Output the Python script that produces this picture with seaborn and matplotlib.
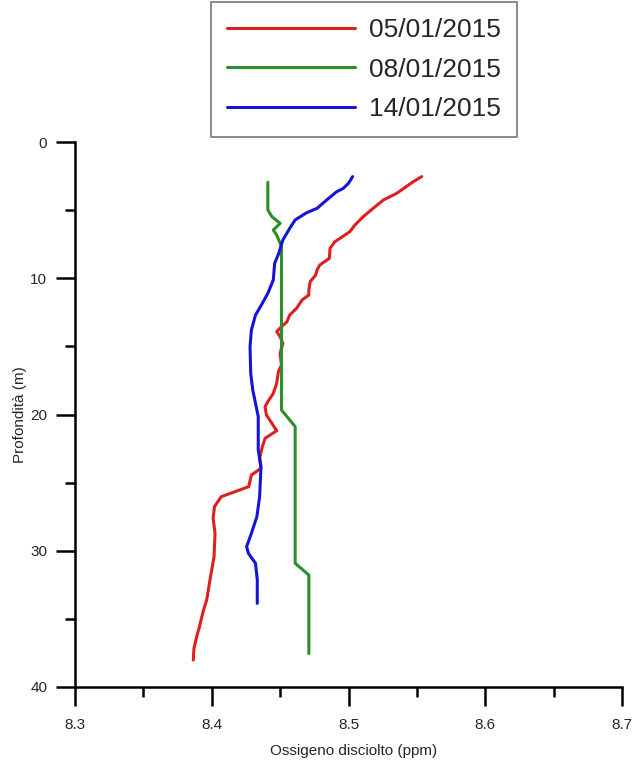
import matplotlib
matplotlib.use("Agg")
import matplotlib.pyplot as plt
import seaborn as sns
import pandas as pd
from matplotlib.ticker import MultipleLocator

# ---- data ----
dates = ["05/01/2015", "08/01/2015", "14/01/2015"]
colors = ["#e01e1e", "#2a8f2a", "#1414d8"]

red_ox = [8.5535, 8.5474, 8.5352, 8.5255, 8.518, 8.5108, 8.5047, 8.501, 8.4938, 8.490,
          8.4865, 8.486, 8.479, 8.477, 8.476, 8.472, 8.471, 8.471, 8.466, 8.462,
          8.457, 8.455, 8.451, 8.4475, 8.450, 8.452, 8.450, 8.451, 8.4487, 8.4475,
          8.445, 8.441, 8.439, 8.440, 8.444, 8.4475, 8.439, 8.437, 8.435, 8.436,
          8.429, 8.427, 8.407, 8.402, 8.401, 8.4024, 8.4017, 8.3987, 8.3963, 8.394,
          8.391, 8.389, 8.387, 8.3865]
red_depth = [2.54, 2.91, 3.77, 4.26, 4.87, 5.48, 6.09, 6.58, 7.07, 7.32,
             7.80, 8.54, 9.03, 9.39, 9.76, 10.25, 10.86, 11.23, 11.60, 12.21,
             12.70, 13.19, 13.55, 13.92, 14.29, 14.78, 15.51, 16.37, 16.86, 17.71,
             18.45, 19.06, 19.43, 20.04, 20.65, 21.19, 21.75, 22.36, 23.22, 23.95,
             24.44, 25.30, 26.03, 26.76, 27.62, 28.72, 30.43, 32.15, 33.62, 34.35,
             35.57, 36.31, 37.16, 38.02]

green_ox = [8.441, 8.441, 8.444, 8.450, 8.445, 8.4475, 8.449, 8.451, 8.451, 8.451,
            8.461, 8.461, 8.471, 8.471]
green_depth = [2.96, 4.99, 5.48, 5.97, 6.46, 6.83, 7.19, 7.68, 19.43, 19.67,
               20.89, 30.92, 31.78, 37.55]

blue_ox = [8.503, 8.500, 8.4962, 8.4913, 8.484, 8.477, 8.4694, 8.461, 8.457, 8.452,
           8.449, 8.446, 8.445, 8.441, 8.437, 8.432, 8.429, 8.428, 8.4285, 8.430,
           8.432, 8.434, 8.434, 8.436, 8.435, 8.433, 8.429, 8.4255, 8.4268, 8.432,
           8.4333, 8.4333]
blue_depth = [2.54, 3.03, 3.40, 3.65, 4.26, 4.87, 5.19, 5.72, 6.34, 7.19,
              8.17, 8.91, 10.13, 11.11, 11.84, 12.70, 13.80, 15.02, 16.98, 18.20,
              19.18, 20.16, 22.61, 23.83, 26.03, 27.50, 28.72, 29.70, 30.19, 30.92,
              32.15, 33.86]

x_ticks = [8.3, 8.4, 8.5, 8.6, 8.7]
y_ticks = [0, 10, 20, 30, 40]

# ---- build table ----
frames = []
for d, ox, dp in zip(dates, [red_ox, green_ox, blue_ox], [red_depth, green_depth, blue_depth]):
    frames.append(pd.DataFrame({"ox": ox, "depth": dp, "date": d}))
df = pd.concat(frames, ignore_index=True)

sns.set_style("white")
plt.rcParams["font.family"] = ["Liberation Sans", "DejaVu Sans"]

fig = plt.figure(figsize=(6.34, 7.66), dpi=100)
ax = fig.add_axes([75 / 634, 1 - 687 / 766, (622 - 75) / 634, (687 - 142) / 766])

sns.lineplot(data=df, x="ox", y="depth", hue="date", palette=colors, sort=False,
             estimator=None, linewidth=2.2, ax=ax)

ax.set_xlim(8.3, 8.7)
ax.set_ylim(40, 0)
ax.set_xticks(x_ticks)
ax.set_xticklabels([f"{v:.1f}" for v in x_ticks])
ax.set_yticks(y_ticks)
ax.set_yticklabels([str(v) for v in y_ticks])
ax.xaxis.set_minor_locator(MultipleLocator(0.05))
ax.yaxis.set_minor_locator(MultipleLocator(5))

for s in ["top", "right"]:
    ax.spines[s].set_visible(False)
for s in ["left", "bottom"]:
    ax.spines[s].set_color("black")
    ax.spines[s].set_linewidth(1.8)

ax.tick_params(which="major", direction="out", length=13.5, width=1.8, labelsize=11,
               color="black", bottom=True, left=True)
ax.tick_params(axis="x", which="major", pad=8.5)
ax.tick_params(axis="y", which="major", pad=6.5)
ax.tick_params(which="minor", direction="out", length=7, width=1.8, color="black",
               bottom=True, left=True)

ax.set_xlabel("Ossigeno disciolto (ppm)", fontsize=11)
ax.set_ylabel("Profondità (m)", fontsize=11)
ax.xaxis.set_label_coords(0.51, -0.105)
ax.yaxis.set_label_coords(-0.088, 0.5)

handles, labels = ax.get_legend_handles_labels()
ax.get_legend().remove()
leg = ax.legend(handles, labels, loc="upper left",
                bbox_to_anchor=(211 / 634, 1 - 2 / 766), bbox_transform=fig.transFigure,
                borderaxespad=0, fontsize=19, handlelength=4.85, handletextpad=0.5,
                borderpad=0.62, labelspacing=0.58, frameon=True, fancybox=False,
                edgecolor="#777777", framealpha=1)
leg.get_frame().set_linewidth(1.2)
for h in leg.get_lines():
    h.set_linewidth(2.2)

fig.savefig("out.png", dpi=100)
